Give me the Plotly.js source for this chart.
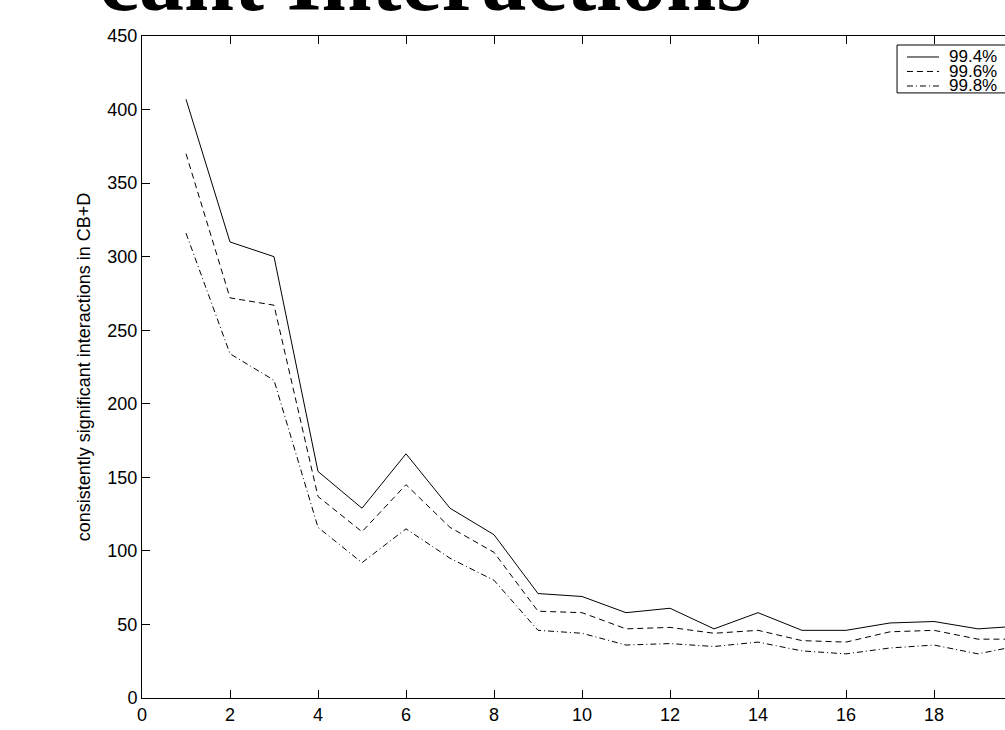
<!DOCTYPE html>
<html>
<head>
<meta charset="utf-8">
<script src="https://cdn.plot.ly/plotly-3.0.1.min.js"></script>
<style>
html, body { margin: 0; padding: 0; overflow: hidden; background: #fff; }
#chart { width: 1040px; height: 730px; }
</style>
</head>
<body>
<div id="chart"></div>
<script>
// Data
const xValues = [1, 2, 3, 4, 5, 6, 7, 8, 9, 10, 11, 12, 13, 14, 15, 16, 17, 18, 19, 20];
const series994 = [407, 310, 300, 154, 129, 166, 129, 111, 71, 69, 58, 61, 47, 58, 46, 46, 51, 52, 47, 49];
const series996 = [370, 272, 267, 137, 113, 145, 116, 99, 59, 58, 47, 48, 44, 46, 39, 38, 45, 46, 40, 40];
const series998 = [316, 234, 216, 116, 92, 115, 95, 80, 46, 44, 36, 37, 35, 38, 32, 30, 34, 36, 30, 36];
const seriesNames = ['99.4%', '99.6%', '99.8%'];
const titleText = 'cant Interactions';
const yTitleText = 'consistently significant interactions in CB+D';

const font = 'Liberation Sans, Arial, Helvetica, sans-serif';
const lineStyles = ['solid', '6px,4px', '6px,3px,1px,3px'];
const allSeries = [series994, series996, series998];

const traces = allSeries.map((ys, i) => ({
  x: xValues,
  y: ys,
  type: 'scatter',
  mode: 'lines',
  name: seriesNames[i],
  line: { color: '#000', width: 1, dash: lineStyles[i] },
  hoverinfo: 'skip',
  showlegend: false
}));

const axisCommon = {
  showline: true,
  linecolor: '#000',
  linewidth: 1,
  mirror: 'allticks',
  ticks: 'inside',
  ticklen: 8,
  tickcolor: '#000',
  tickwidth: 1,
  showgrid: false,
  zeroline: false,
  tickfont: { family: font, size: 18, color: '#000' }
};

// MATLAB-style compact legend box (top right, inside the axes)
const legendBox = { x0: 0.858, x1: 0.993, y0: 0.914, y1: 0.9864 };
const legendRows = [0.9683, 0.9464, 0.9245];
const shapes = [{
  type: 'rect', xref: 'paper', yref: 'paper',
  x0: legendBox.x0, x1: legendBox.x1, y0: legendBox.y0, y1: legendBox.y1,
  line: { color: '#000', width: 1 }, fillcolor: '#fff', layer: 'above'
}];
const annotations = [{
  text: '<b>' + titleText + '</b>',
  xref: 'paper', yref: 'paper',
  x: 0.3216, y: 1.0076, xanchor: 'center', yanchor: 'bottom',
  showarrow: false,
  font: { family: 'Liberation Serif, Times New Roman, serif', size: 90, color: '#000' }
}];
seriesNames.forEach((name, i) => {
  shapes.push({
    type: 'line', xref: 'paper', yref: 'paper',
    x0: 0.8693, x1: 0.9057, y0: legendRows[i], y1: legendRows[i],
    line: { color: '#000', width: 1, dash: lineStyles[i] }, layer: 'above'
  });
  annotations.push({
    text: name, xref: 'paper', yref: 'paper',
    x: 0.9160, y: legendRows[i], xanchor: 'left', yanchor: 'middle',
    showarrow: false, borderpad: 0,
    font: { family: font, size: 17, color: '#000' }
  });
});

const layout = {
  width: 1040,
  height: 730,
  margin: { l: 142, r: 18, t: 36, b: 32 },
  paper_bgcolor: '#fff',
  plot_bgcolor: '#fff',
  showlegend: false,
  xaxis: Object.assign({}, axisCommon, {
    range: [0, 20], dtick: 2, tick0: 0
  }),
  yaxis: Object.assign({}, axisCommon, {
    range: [0, 450], dtick: 50, tick0: 0,
    title: { text: yTitleText, font: { family: font, size: 18, color: '#000' }, standoff: 12 }
  }),
  shapes: shapes,
  annotations: annotations
};

Plotly.newPlot('chart', traces, layout, { displayModeBar: false, staticPlot: true });
</script>
</body>
</html>
